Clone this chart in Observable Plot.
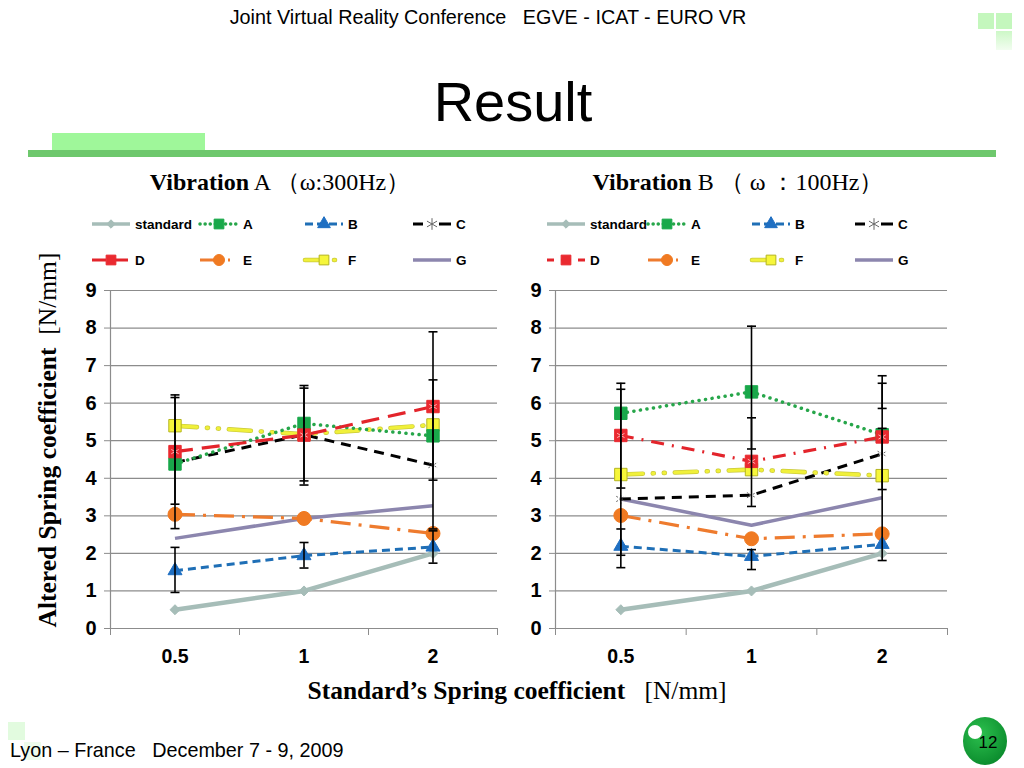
<!DOCTYPE html>
<html><head><meta charset="utf-8">
<script src="https://cdn.jsdelivr.net/npm/d3@7"></script>
<script src="https://cdn.jsdelivr.net/npm/@observablehq/plot@0.6"></script>
<style>
html,body{margin:0;padding:0}
body{width:1024px;height:768px;position:relative;background:#fff;font-family:"Liberation Sans",Arial,sans-serif;overflow:hidden;color:#000}
.abs{position:absolute}
.serif{font-family:"Liberation Serif","Times New Roman",serif}
</style></head><body>
<!-- decorations -->
<div class="abs" style="left:978px;top:13px;width:16px;height:16px;background:#c4f7bd"></div>
<div class="abs" style="left:996px;top:13px;width:16px;height:16px;background:#c4f7bd"></div>
<div class="abs" style="left:996px;top:31px;width:16px;height:19px;background:linear-gradient(#cdf8c7,#f2fdf0)"></div>
<div class="abs" style="left:8px;top:722px;width:17px;height:18px;background:#e2fbdf"></div>
<div class="abs" style="left:24px;top:742px;width:17px;height:18px;background:#eefcec"></div>
<div class="abs" style="left:52px;top:133px;width:153px;height:17px;background:#9ff79a"></div>
<div class="abs" style="left:28px;top:150px;width:968px;height:7px;background:#6ec86d"></div>

<div class="abs" style="left:0;width:976px;top:6px;text-align:center;font-size:19.8px;white-space:pre">Joint Virtual Reality Conference   EGVE - ICAT - EURO VR</div>
<div class="abs" style="left:0;width:1026px;top:69px;text-align:center;font-size:56px">Result</div>

<div class="abs serif" style="left:0;width:560px;top:166px;text-align:center;font-size:24px;white-space:pre"><b>Vibration</b> A （ω:300Hz）</div>
<div class="abs serif" style="left:478px;width:520px;top:166px;text-align:center;font-size:24px;white-space:pre"><b>Vibration</b> B （ ω ：100Hz）</div>

<div class="abs serif" style="left:48px;top:440px;transform:translate(-50%,-50%) rotate(-90deg);font-size:25.5px;white-space:pre"><b>Altered Spring coefficient</b>  [N/mm]</div>
<div class="abs serif" style="left:0;width:1034px;top:676px;text-align:center;font-size:25.5px;white-space:pre"><b>Standard’s Spring coefficient</b>   [N/mm]</div>

<div class="abs" style="left:10px;top:739px;font-size:19.8px;white-space:pre">Lyon – France   December 7 - 9, 2009</div>
<svg class="abs" style="left:955px;top:710px" width="60" height="60">
  <defs><radialGradient id="pg" cx="0.4" cy="0.35" r="0.7"><stop offset="0" stop-color="#2cc04e"/><stop offset="1" stop-color="#0a8a2c"/></radialGradient></defs>
  <ellipse cx="30" cy="31" rx="22" ry="24" fill="url(#pg)"/>
  <circle cx="20" cy="22" r="7" fill="#fff"/>
  <text x="33" y="38" font-size="17" text-anchor="middle" font-family="Liberation Sans, Arial">12</text>
</svg>

<div id="legA" class="abs" style="left:0;top:200px"></div>
<div id="legB" class="abs" style="left:0;top:200px"></div>
<div id="chartA" class="abs" style="left:40px;top:270px"></div>
<div id="chartB" class="abs" style="left:485px;top:270px"></div>

<script>
const categories = ["0.5", "1", "2"];
const seriesNames = ["standard", "A", "B", "C", "D", "E", "F", "G"];
const yTicks = [0, 1, 2, 3, 4, 5, 6, 7, 8, 9];

// Vibration A (300Hz): one row per series, one value per category
const vibrationA = [
  [0.5, 1, 2],
  [4.38, 5.46, 5.13],
  [1.54, 1.94, 2.17],
  [4.42, 5.16, 4.35],
  [4.71, 5.15, 5.91],
  [3.04, 2.93, 2.53],
  [5.40, 5.17, 5.42],
  [2.40, 2.93, 3.27]
];
// Vibration B (100Hz)
const vibrationB = [
  [0.5, 1, 2],
  [5.73, 6.30, 5.16],
  [2.19, 1.92, 2.24],
  [3.45, 3.55, 4.65],
  [5.14, 4.45, 5.10],
  [3.01, 2.39, 2.52],
  [4.10, 4.23, 4.07],
  [3.45, 2.75, 3.48]
];
// error bars: category, low, high
const errorsA = [
  ["0.5", 0.96, 2.16], ["0.5", 3.31, 6.15], ["0.5", 2.66, 6.22],
  ["1", 1.61, 2.29], ["1", 3.93, 6.40], ["1", 3.82, 6.47],
  ["2", 1.74, 2.60], ["2", 3.95, 7.90], ["2", 2.65, 6.62]
];
const errorsB = [
  ["0.5", 1.62, 2.65], ["0.5", 1.95, 6.37], ["0.5", 3.74, 6.53],
  ["1", 1.57, 2.10], ["1", 3.25, 5.61], ["1", 4.78, 8.05],
  ["2", 1.81, 5.33], ["2", 3.70, 6.73], ["2", 5.86, 6.53]
];

// styles (kept separate from data)
const styleOf = {
  standard: {stroke: "#a6bdb8", width: 4.5, dash: null, symbol: "diamond2", fill: "#a6bdb8", r: 4.5},
  A: {stroke: "#27a64a", width: 3.5, dash: "0.1 6.5", cap: "round", symbol: "square", fill: "#19a84a", r: 7},
  B: {stroke: "#1f6fb6", width: 3, dash: "8 5", symbol: "triangle", fill: "#1f6fc2", r: 5.2},
  C: {stroke: "#000", width: 3, dash: "10 7", symbol: "times", fill: "none", mstroke: "#666", r: 5},
  D: {stroke: "#e3242b", width: 3.2, dash: "18 9", symbol: "square", fill: "#ea2a30", r: 7, star: true},
  E: {stroke: "#ee7b2e", width: 3.2, dash: "20 8 3 8", symbol: "circle", fill: "#f07a22", r: 7},
  F: {stroke: "#f0f03a", width: 3.2, dash: "22 10 1 10 1 10", cap: "round", symbol: "square", fill: "#f6f63a", mstroke: "#b5b520", r: 7, under: "#c9c93a"},
  G: {stroke: "#8c86ae", width: 3.5, dash: null, symbol: null}
};
const dashB_D = "13 8 2 8";
const gridColor = "#8c8c8c";

const capSymbol = {draw(ctx) { ctx.moveTo(-4.5, 0); ctx.lineTo(4.5, 0); }};

function makeChart(values, errors, width, dashOverride) {
  const rows = [];
  values.forEach((vals, s) => vals.forEach((v, i) => rows.push({series: seriesNames[s], i, v})));
  const errs = errors.map(([c, lo, hi]) => ({i: categories.indexOf(c), lo, hi}));
  const caps = errs.flatMap(e => [{i: e.i, y: e.lo}, {i: e.i, y: e.hi}]);
  const marks = [
    Plot.ruleY(yTicks, {stroke: gridColor, strokeWidth: 1.2}),
    Plot.ruleX([-0.5], {stroke: gridColor, strokeWidth: 1.2}),
    Plot.axisY({ticks: yTicks, tickSize: 6, tickPadding: 8, stroke: gridColor, label: null, fontSize: 20, fontWeight: "bold"}),
    Plot.axisX({ticks: [-0.5, 0.5, 1.5, 2.5], tickSize: 7, tickFormat: () => "", stroke: gridColor, label: null}),
    Plot.axisX({ticks: [0, 1, 2], tickSize: 0, tickPadding: 21, tickFormat: i => categories[i], label: null, fontSize: 19.5, fontWeight: "bold"})
  ];
  const order = ["G", "standard", "E", "B", "C", "F", "A", "D"];
  for (const name of order) {
    const st = styleOf[name];
    const data = rows.filter(r => r.series === name);
    const dash = (name === "D" && dashOverride) ? dashOverride : st.dash;
    if (st.under) marks.push(Plot.line(data, {x: "i", y: "v", stroke: st.under, strokeWidth: st.width + 1.4, strokeDasharray: dash, strokeLinecap: st.cap || "butt"}));
    marks.push(Plot.line(data, {x: "i", y: "v", stroke: st.stroke, strokeWidth: st.width, strokeDasharray: dash, strokeLinecap: st.cap || "butt"}));
  }
  for (const name of order) {
    const st = styleOf[name];
    if (!st.symbol) continue;
    const data = rows.filter(r => r.series === name);
    if (st.symbol === "times") {
      marks.push(Plot.dot(data, {x: "i", y: "v", symbol: "asterisk", r: st.r, stroke: st.mstroke, strokeWidth: 1, strokeDasharray: "2 1.5", fill: "none"}));
    } else {
      marks.push(Plot.dot(data, {x: "i", y: "v", symbol: st.symbol, r: st.r, fill: st.fill, stroke: st.mstroke || st.fill, strokeWidth: 1}));
    }
    if (st.star) marks.push(Plot.dot(data, {x: "i", y: "v", symbol: "asterisk", r: 4, stroke: "#ffb4b4", strokeWidth: 1}));
  }
  marks.push(Plot.ruleX(errs, {x: "i", y1: "lo", y2: "hi", stroke: "#000", strokeWidth: 1.6}));
  marks.push(Plot.dot(caps, {x: "i", y: "y", symbol: capSymbol, stroke: "#000", strokeWidth: 1.6, r: 3}));
  return Plot.plot({
    width, height: 400,
    marginLeft: 70, marginRight: width - 70 - (width === 460 ? 387 : 392), marginTop: 20, marginBottom: 42,
    x: {type: "linear", domain: [-0.5, 2.5]},
    y: {domain: [0, 9]},
    style: {background: "transparent", fontFamily: "Liberation Sans, Arial, sans-serif", color: "#000", overflow: "visible"},
    marks
  });
}

document.getElementById("chartA").appendChild(makeChart(vibrationA, errorsA, 460, null));
document.getElementById("chartB").appendChild(makeChart(vibrationB, errorsB, 465, dashB_D));

function makeLegend(el, cols, dashD) {
  const svg = d3.select(el).append("svg").attr("width", 1024).attr("height", 80).style("overflow", "visible");
  const rowsY = [24, 60];
  seriesNames.forEach((name, k) => {
    const st = styleOf[name];
    const x0 = cols[k % 4], y = rowsY[Math.floor(k / 4)];
    const g = svg.append("g");
    const dash = (name === "D" && dashD) ? dashD : st.dash;
    let ldash = dash;
    if (name === "A") ldash = "0.1 5";
    if (name === "B") ldash = "8 4";
    if (name === "C") ldash = "10 10 20";
    if (name === "D") ldash = dashD ? "7 7 10" : "14 8";
    if (name === "E") ldash = "20 8 2 8";
    if (name === "F") ldash = "20 9 1 9";
    if (st.under) g.append("line").attr("x1", x0).attr("x2", x0 + 38).attr("y1", y).attr("y2", y)
      .attr("stroke", st.under).attr("stroke-width", st.width + 1.4).attr("stroke-dasharray", ldash).attr("stroke-linecap", st.cap || "butt");
    g.append("line").attr("x1", x0).attr("x2", x0 + 38).attr("y1", y).attr("y2", y)
      .attr("stroke", st.stroke).attr("stroke-width", name === "G" ? 3.5 : Math.min(st.width, 3.5))
      .attr("stroke-dasharray", ldash).attr("stroke-linecap", st.cap || "butt");
    if (st.symbol) {
      const symMap = {diamond2: d3.symbolDiamond2, square: d3.symbolSquare, triangle: d3.symbolTriangle, circle: d3.symbolCircle, times: d3.symbolAsterisk};
      const size = st.symbol === "diamond2" ? 45 : st.symbol === "triangle" ? 70 : 95;
      const p = g.append("path").attr("d", d3.symbol(symMap[st.symbol], size)()).attr("transform", `translate(${x0 + 19},${y})`);
      if (st.symbol === "times") {
        g.insert("rect", "path").attr("x", x0 + 12).attr("y", y - 6).attr("width", 14).attr("height", 12).attr("fill", "#fff");
        p.attr("fill", "none").attr("stroke", "#666").attr("stroke-width", 1);
      } else p.attr("fill", st.fill).attr("stroke", st.mstroke || st.fill);
    }
    g.append("text").attr("x", x0 + 43).attr("y", y + 5).attr("font-size", 13.5).attr("font-weight", "bold")
      .attr("font-family", "Liberation Sans, Arial, sans-serif").text(name);
  });
}
makeLegend(document.getElementById("legA"), [92, 200, 305, 413], null);
makeLegend(document.getElementById("legB"), [547, 648, 752, 855], dashB_D);
</script>
</body></html>
